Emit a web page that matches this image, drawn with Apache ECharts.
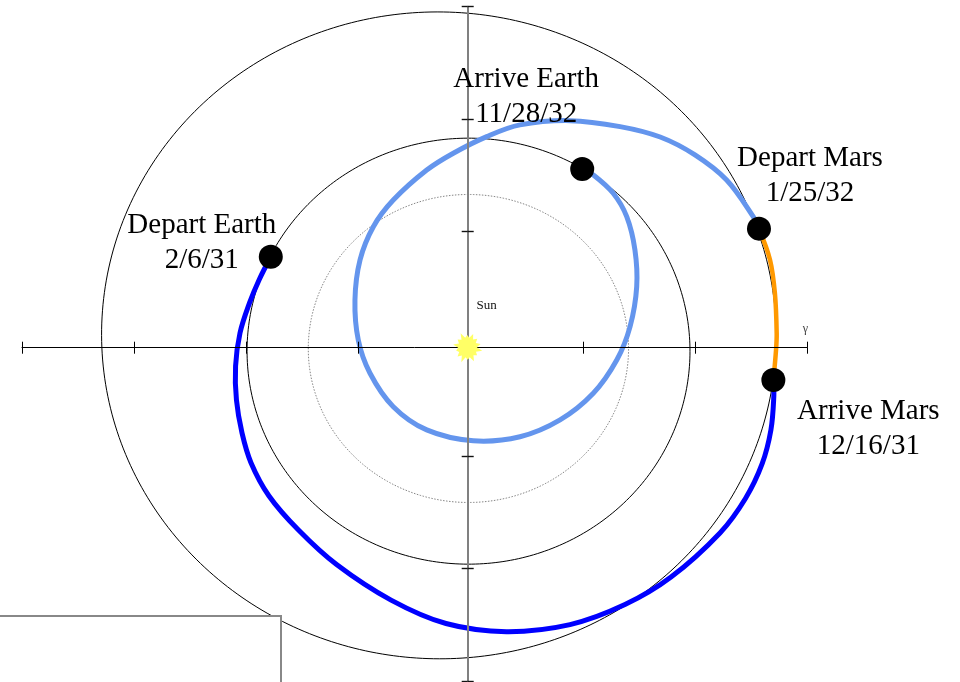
<!DOCTYPE html>
<html>
<head>
<meta charset="utf-8">
<script src="https://cdn.jsdelivr.net/npm/echarts@6/dist/echarts.min.js"></script>
<style>
  html, body { margin: 0; padding: 0; background: #ffffff; }
  #chart { width: 960px; height: 682px; }
</style>
</head>
<body>
<div id="chart"></div>
<script>
// Planetary orbits (heliocentric ecliptic, AU / degrees)
const planetNames = ['Venus', 'Earth', 'Mars'];
const semiMajorAxisAU = [0.723, 1.0, 1.524];
const eccentricities = [0.0068, 0.0167, 0.0934];
const perihelionLongitudes = [131.5, 102.9, 336.0];

// Mission events
const eventNames = ['Depart Earth', 'Arrive Mars', 'Depart Mars', 'Arrive Earth'];
const eventDates = ['2/6/31', '12/16/31', '1/25/32', '11/28/32'];
const eventX = [-0.889, 1.380, 1.315, 0.517];
const eventY = [0.427, -0.152, 0.559, 0.839];

// Earth -> Mars transfer leg (AU)
const outboundX = [-0.889, -0.942, -0.985, -1.028, -1.048, -1.044, -1.019, -0.978, -0.897, -0.764,
                   -0.592, -0.346, -0.098, 0.175, 0.462, 0.710, 0.918, 1.139, 1.254, 1.329,
                   1.369, 1.382, 1.380];
const outboundY = [0.427, 0.318, 0.210, 0.069, -0.086, -0.246, -0.400, -0.541, -0.696, -0.856,
                   -1.018, -1.185, -1.295, -1.333, -1.300, -1.206, -1.077, -0.870, -0.708, -0.546,
                   -0.386, -0.230, -0.152];

// Stay at Mars
const stayX = [1.380, 1.392, 1.395, 1.387, 1.365, 1.315];
const stayY = [-0.152, -0.011, 0.068, 0.255, 0.412, 0.559];

// Mars -> Earth return leg (AU)
const returnX = [1.315, 1.289, 1.169, 1.026, 0.869, 0.688, 0.462, 0.236, 0.086, -0.065,
                 -0.185, -0.336, -0.426, -0.486, -0.509, -0.494, -0.441, -0.336, -0.185, 0.025,
                 0.236, 0.417, 0.567, 0.673, 0.733, 0.763, 0.755, 0.718, 0.657, 0.567, 0.517];
const returnY = [0.559, 0.615, 0.787, 0.905, 0.989, 1.038, 1.066, 1.046, 0.991, 0.913,
                 0.834, 0.693, 0.568, 0.412, 0.224, 0.036, -0.120, -0.277, -0.386, -0.437,
                 -0.418, -0.339, -0.214, -0.058, 0.099, 0.286, 0.459, 0.615, 0.725, 0.811, 0.839];

// ---- helpers ----
const zip = (xs, ys) => xs.map((x, i) => [x, ys[i]]);

function orbitPoints(i) {
  const a = semiMajorAxisAU[i];
  const e = eccentricities[i];
  const w = perihelionLongitudes[i] * Math.PI / 180;
  const p = a * (1 - e * e);
  const pts = [];
  for (let k = 0; k <= 360; k++) {
    const t = k * Math.PI / 180;
    const r = p / (1 + e * Math.cos(t - w));
    pts.push([r * Math.cos(t), r * Math.sin(t)]);
  }
  return pts;
}

// irregular starburst used as the Sun symbol
function burstPath(outer, inner) {
  const n = outer.length;
  let d = '';
  for (let i = 0; i < n * 2; i++) {
    const ang = Math.PI * i / n + 0.2;
    const r = i % 2 ? inner : outer[i >> 1];
    d += (i ? 'L' : 'M') + (50 + 50 * r * Math.cos(ang)).toFixed(1) + ' ' +
         (50 + 50 * r * Math.sin(ang)).toFixed(1);
  }
  return 'path://' + d + 'Z';
}
const sunSymbol = burstPath([1, 0.8, 0.95, 0.76, 1, 0.86, 0.78, 0.97, 0.82, 1, 0.78, 0.92, 0.85, 0.9], 0.62);

// label placement around each event marker (px)
const labelOffsets = [[-69, -14], [95, 49], [51, -53], [-56, -72]];

const serif = "'Liberation Serif', 'Times New Roman', 'DejaVu Serif', serif";

const orbitStyles = [
  { color: '#777777', width: 0.9, type: [1.5, 1.5] },
  { color: '#000000', width: 1 },
  { color: '#000000', width: 1 }
];

const series = [];
planetNames.forEach((name, i) => {
  series.push({
    name: name + ' orbit',
    type: 'line',
    xAxisIndex: 0, yAxisIndex: 0,
    data: orbitPoints(i),
    showSymbol: false,
    silent: true,
    z: 1,
    lineStyle: orbitStyles[i]
  });
});

// a trajectory leg drawn as one smooth path through its sampled positions
function legSeries(name, xs, ys, color, width) {
  return {
    name: name,
    type: 'custom',
    coordinateSystem: 'cartesian2d',
    xAxisIndex: 0, yAxisIndex: 0,
    data: zip(xs, ys),
    z: 3,
    silent: true,
    renderItem: function (params, api) {
      if (params.dataIndex !== 0) return null;
      const pts = xs.map((x, i) => api.coord([x, ys[i]]));
      return {
        type: 'polyline',
        shape: { points: pts, smooth: 0.35 },
        style: { fill: null, stroke: color, lineWidth: width, lineCap: 'round', lineJoin: 'round' }
      };
    }
  };
}

series.push(legSeries('Earth to Mars', outboundX, outboundY, '#0000ff', 5));
series.push(legSeries('At Mars', stayX, stayY, '#ff9900', 4.5));
series.push(legSeries('Mars to Earth', returnX, returnY, '#6495ed', 5));

series.push({
  name: 'Sun',
  type: 'scatter', xAxisIndex: 0, yAxisIndex: 0,
  data: [[0, 0]],
  symbol: sunSymbol,
  symbolSize: [29, 29],
  z: 8,
  itemStyle: { color: '#ffff66', opacity: 1 },
  label: {
    show: true, position: 'inside', formatter: 'Sun',
    offset: [19, -42], color: '#111', fontFamily: serif, fontSize: 13
  }
});

series.push({
  name: 'Events',
  type: 'scatter', xAxisIndex: 0, yAxisIndex: 0,
  symbol: 'circle', symbolSize: 24,
  z: 10,
  itemStyle: { color: '#000000', opacity: 1 },
  data: eventNames.map((n, i) => ({
    name: n,
    value: [eventX[i], eventY[i]],
    label: { offset: labelOffsets[i] }
  })),
  label: {
    show: true,
    position: 'inside',
    align: 'center',
    verticalAlign: 'middle',
    formatter: p => p.name + '\n' + eventDates[p.dataIndex],
    color: '#000000', opacity: 1, fontFamily: serif, fontSize: 29, lineHeight: 35
  }
});

const hiddenAxis = { type: 'value', show: false, scale: false };
const tickAxisBase = {
  type: 'value',
  axisLabel: { show: false },
  splitLine: { show: false },
  z: 5
};

const option = {
  backgroundColor: '#ffffff',
  animation: false,
  grid: { left: 22, right: 152.7, top: 6.7, bottom: 1, containLabel: false },
  xAxis: [
    Object.assign({}, hiddenAxis, { min: -2.0122, max: 1.5332 }),
    Object.assign({}, tickAxisBase, {
      position: 'bottom', min: 0, max: 7, interval: 1,
      name: 'γ', nameLocation: 'end', nameGap: -2,
      nameTextStyle: { color: '#444', fontFamily: serif, fontSize: 12, align: 'center', verticalAlign: 'bottom', padding: [0, 0, 13, 0] },
      axisLine: { show: true, onZero: true, onZeroAxisIndex: 0, lineStyle: { color: '#000', width: 1 } },
      axisTick: { show: true, inside: false, length: 6, lineStyle: { color: '#000', width: 1 } }
    }),
    Object.assign({}, tickAxisBase, {
      position: 'bottom', min: 0, max: 7, interval: 1,
      axisLine: { show: true, onZero: true, onZeroAxisIndex: 0, lineStyle: { opacity: 0 } },
      axisTick: { show: true, inside: true, length: 6, lineStyle: { color: '#000', width: 1 } }
    })
  ],
  yAxis: [
    Object.assign({}, hiddenAxis, { min: -1.5648, max: 1.6009 }),
    Object.assign({}, tickAxisBase, {
      position: 'left', min: 0, max: 6, interval: 1,
      axisLine: { show: true, onZero: true, onZeroAxisIndex: 0, lineStyle: { color: '#808080', width: 2 } },
      axisTick: { show: true, inside: false, length: 6, lineStyle: { color: '#111', width: 1.4 } }
    }),
    Object.assign({}, tickAxisBase, {
      position: 'left', min: 0, max: 6, interval: 1,
      axisLine: { show: true, onZero: true, onZeroAxisIndex: 0, lineStyle: { opacity: 0 } },
      axisTick: { show: true, inside: true, length: 6, lineStyle: { color: '#111', width: 1.4 } }
    })
  ],
  graphic: [{
    type: 'rect',
    z: 50,
    shape: { x: -10, y: 616, width: 291, height: 100 },
    style: { fill: '#ffffff', stroke: '#888888', lineWidth: 2 }
  }],
  series: series
};

const chart = echarts.init(document.getElementById('chart'), null, { renderer: 'canvas' });
chart.setOption(option);
</script>
</body>
</html>
